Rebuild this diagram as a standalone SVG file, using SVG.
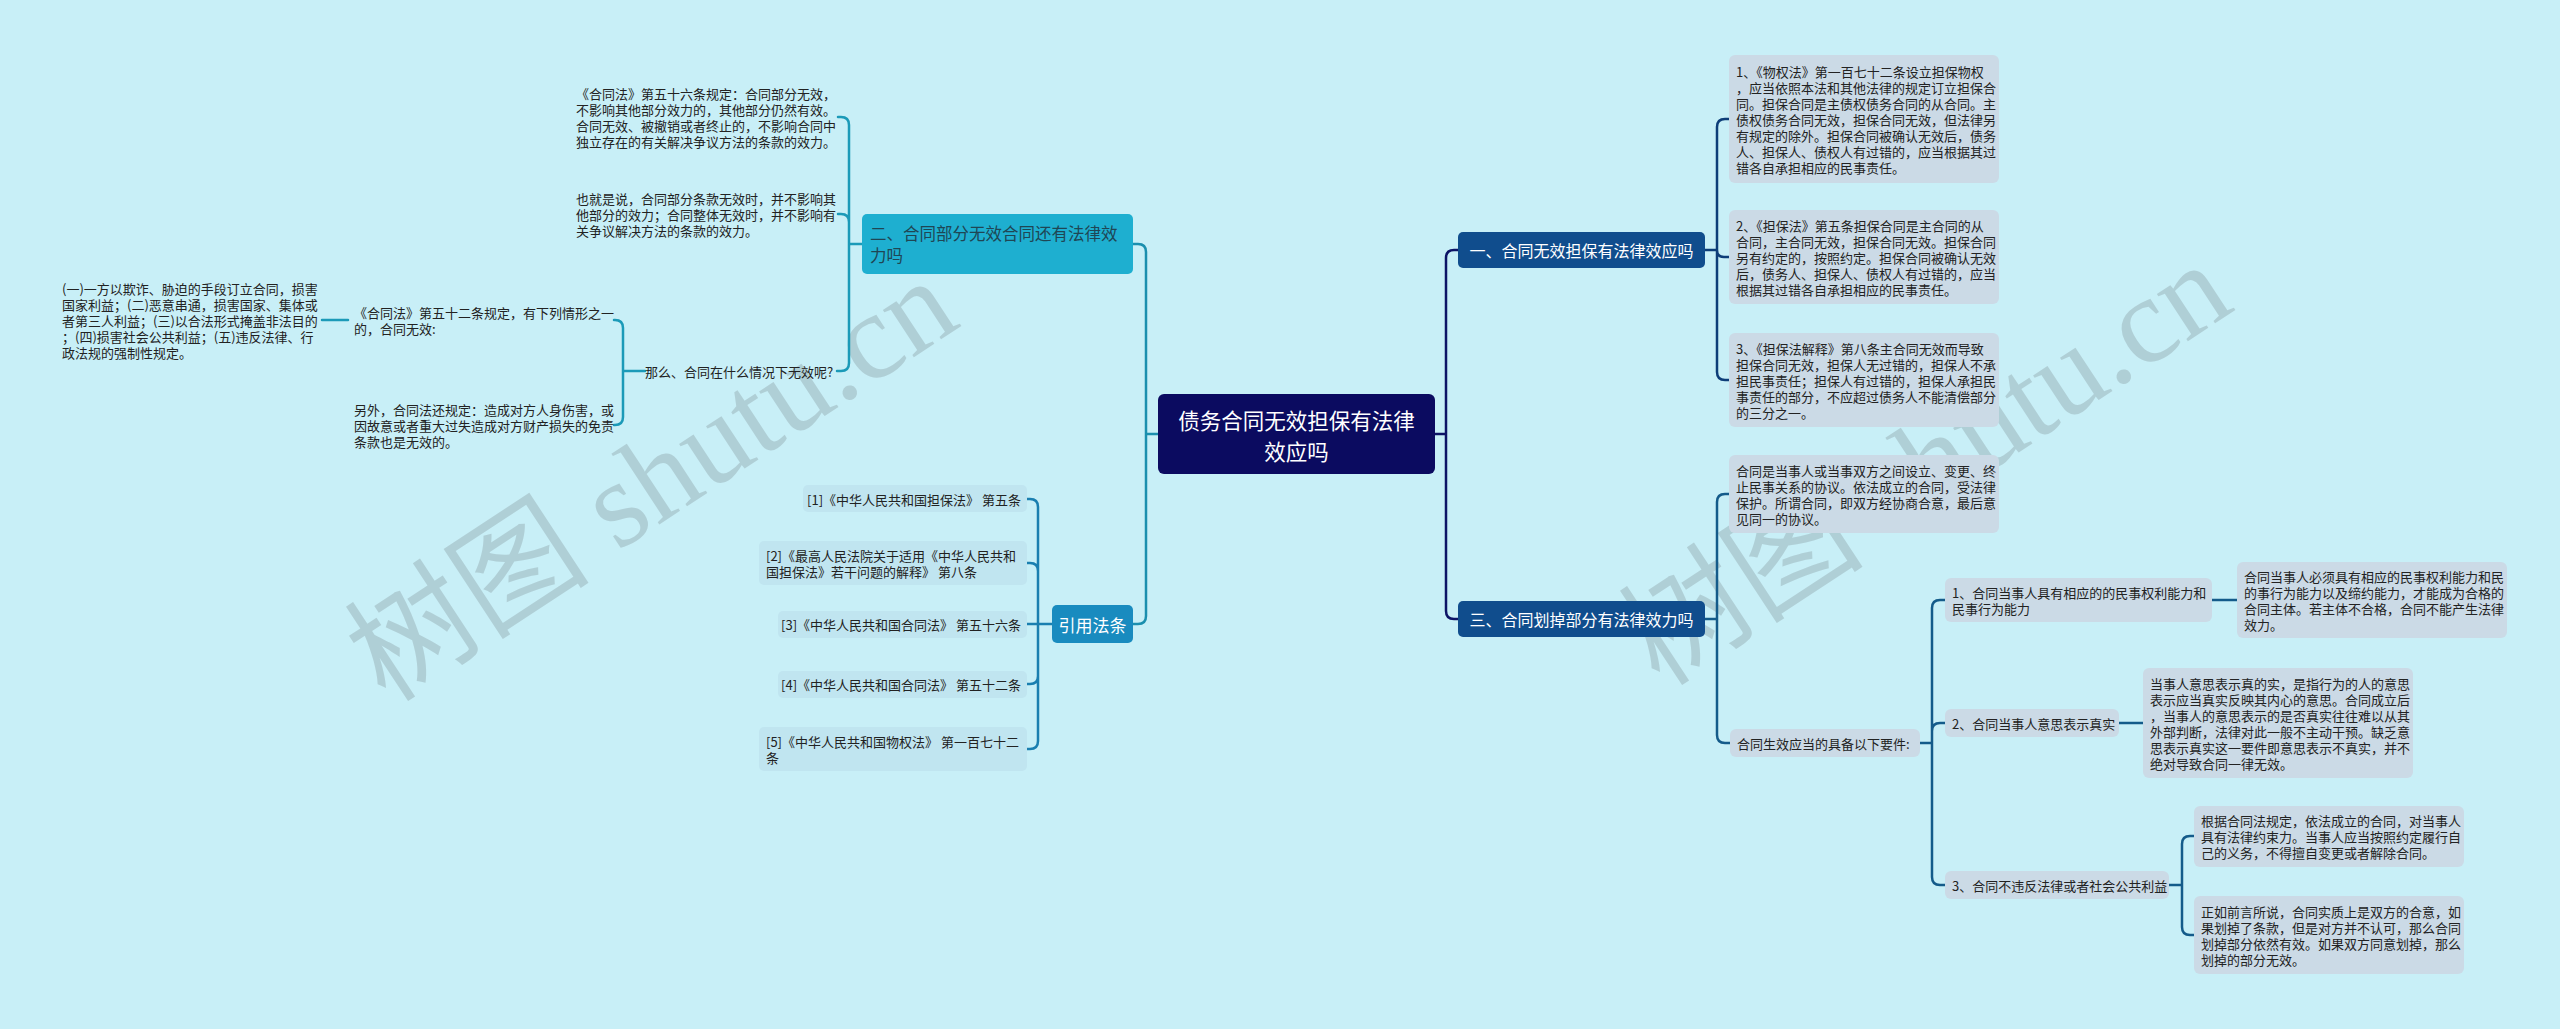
<svg xmlns="http://www.w3.org/2000/svg" width="2560" height="1029" viewBox="0 0 2560 1029">
<defs>
<style>
.bg{fill:#c8eff7}
.t{font-family:"Noto Sans CJK SC","Noto Sans",sans-serif;font-size:13px;fill:#222;dominant-baseline:central}
.leaf{fill:#cbdae6}
.ref{fill:#c0e5f0}
.wm{font-family:"Liberation Serif","Noto Sans CJK SC",serif;font-size:123px;fill:#8fa4aa;opacity:0.42}
.c{fill:none;stroke-width:2.5;stroke-linecap:round}
.root{fill:#0b0b60}
.b13{fill:#104d8d}
.big{font-family:"Noto Sans CJK SC","Noto Sans",sans-serif;fill:#fff;dominant-baseline:central;text-anchor:middle}
</style>
</defs>
<rect class="bg" x="0" y="0" width="2560" height="1029"/>
<text class="wm" transform="translate(386,704) rotate(-33.3)">树图 shutu.cn</text>
<text class="wm" transform="translate(1660,688) rotate(-33.3)">树图 shutu.cn</text>

<g id="connectors">
<path class="c" stroke="#0d1466" d="M1435,434 H1446 M1446,434 V258 Q1446,250 1454,250 H1458 M1446,434 V611 Q1446,619 1454,619 H1458"/>
<path class="c" stroke="#0d3d78" d="M1705,250 H1717 M1717,250 V127 Q1717,119 1725,119 H1729 M1717,250 Q1717,257 1724,257 H1729 M1717,250 V372 Q1717,380 1725,380 H1729"/>
<path class="c" stroke="#145b8a" d="M1705,619 H1717 M1717,619 V502 Q1717,494 1725,494 H1729 M1717,619 V735 Q1717,743 1725,743 H1730"/>
<path class="c" stroke="#145b8a" d="M1920,743 H1932 M1932,743 V608 Q1932,600 1940,600 H1945 M1932,743 V731 Q1932,723 1940,723 H1945 M1932,743 V877 Q1932,885 1940,885 H1945"/>
<path class="c" stroke="#145b8a" d="M2212,600 H2237 M2119,723 H2143 M2169,885 H2182 M2182,885 V844 Q2182,836 2190,836 H2194 M2182,885 V927 Q2182,935 2190,935 H2194"/>
<path class="c" stroke="#1b8fae" d="M1158,434 H1146 M1146,434 V252 Q1146,244 1138,244 H1133 M1146,434 V616 Q1146,624 1138,624 H1133"/>
<path class="c" stroke="#1b9ab8" d="M862,244 H849 M849,244 V125 Q849,117 841,117 H838 M849,244 V222 Q849,214 841,214 H838 M849,244 V363 Q849,371 841,371 H837"/>
<path class="c" stroke="#1b9ab8" d="M645,371 H623 M623,371 V328 Q623,320 615,320 H614 M623,371 V417 Q623,425 615,425 H614 M348,320 H322"/>
<path class="c" stroke="#1a7fb0" d="M1052,624 H1038 M1038,624 V507 Q1038,499 1030,499 H1027 M1038,624 V571 Q1038,563 1030,563 H1027 M1038,624 H1027 M1038,624 V676 Q1038,684 1030,684 H1027 M1038,624 V741 Q1038,749 1030,749 H1027"/>
</g>

<g id="root">
<rect class="root" x="1158" y="394" width="277" height="80" rx="6"/>
<text class="big" x="1296.5" y="419" font-size="21.5">债务合同无效担保有法律</text>
<text class="big" x="1296.5" y="450" font-size="21.5">效应吗</text>
</g>

<g id="branch1">
<rect class="b13" x="1458" y="232" width="247" height="36" rx="5"/>
<text class="big" x="1581.5" y="250" font-size="16">一、合同无效担保有法律效应吗</text>
</g>
<g id="branch3">
<rect class="b13" x="1458" y="601" width="247" height="36" rx="5"/>
<text class="big" x="1581.5" y="619" font-size="16">三、合同划掉部分有法律效力吗</text>
</g>

<g id="l1">
<rect class="leaf" x="1729" y="55" width="270" height="128" rx="6"/>
<text class="t" x="1736" y="71">1、《物权法》第一百七十二条设立担保物权</text>
<text class="t" x="1736" y="87">，应当依照本法和其他法律的规定订立担保合</text>
<text class="t" x="1736" y="103">同。担保合同是主债权债务合同的从合同。主</text>
<text class="t" x="1736" y="119">债权债务合同无效，担保合同无效，但法律另</text>
<text class="t" x="1736" y="135">有规定的除外。担保合同被确认无效后，债务</text>
<text class="t" x="1736" y="151">人、担保人、债权人有过错的，应当根据其过</text>
<text class="t" x="1736" y="167">错各自承担相应的民事责任。</text>
</g>
<g id="l2">
<rect class="leaf" x="1729" y="210" width="270" height="94" rx="6"/>
<text class="t" x="1736" y="225">2、《担保法》第五条担保合同是主合同的从</text>
<text class="t" x="1736" y="241">合同，主合同无效，担保合同无效。担保合同</text>
<text class="t" x="1736" y="257">另有约定的，按照约定。担保合同被确认无效</text>
<text class="t" x="1736" y="273">后，债务人、担保人、债权人有过错的，应当</text>
<text class="t" x="1736" y="289">根据其过错各自承担相应的民事责任。</text>
</g>
<g id="l3">
<rect class="leaf" x="1729" y="333" width="270" height="94" rx="6"/>
<text class="t" x="1736" y="348">3、《担保法解释》第八条主合同无效而导致</text>
<text class="t" x="1736" y="364">担保合同无效，担保人无过错的，担保人不承</text>
<text class="t" x="1736" y="380">担民事责任；担保人有过错的，担保人承担民</text>
<text class="t" x="1736" y="396">事责任的部分，不应超过债务人不能清偿部分</text>
<text class="t" x="1736" y="412">的三分之一。</text>
</g>

<g id="a">
<rect class="leaf" x="1729" y="455" width="270" height="78" rx="6"/>
<text class="t" x="1736" y="470">合同是当事人或当事双方之间设立、变更、终</text>
<text class="t" x="1736" y="486">止民事关系的协议。依法成立的合同，受法律</text>
<text class="t" x="1736" y="502">保护。所谓合同，即双方经协商合意，最后意</text>
<text class="t" x="1736" y="518">见同一的协议。</text>
</g>
<g id="b">
<rect class="leaf" x="1730" y="729" width="190" height="28" rx="6"/>
<text class="t" x="1737" y="743">合同生效应当的具备以下要件:</text>
</g>
<g id="b1">
<rect class="leaf" x="1945" y="578" width="267" height="44" rx="6"/>
<text class="t" x="1952" y="592">1、合同当事人具有相应的的民事权利能力和</text>
<text class="t" x="1952" y="608">民事行为能力</text>
</g>
<g id="b1c">
<rect class="leaf" x="2237" y="562" width="270" height="76" rx="6"/>
<text class="t" x="2244" y="576">合同当事人必须具有相应的民事权利能力和民</text>
<text class="t" x="2244" y="592">的事行为能力以及缔约能力，才能成为合格的</text>
<text class="t" x="2244" y="608">合同主体。若主体不合格，合同不能产生法律</text>
<text class="t" x="2244" y="624">效力。</text>
</g>
<g id="b2">
<rect class="leaf" x="1945" y="709" width="174" height="28" rx="6"/>
<text class="t" x="1952" y="723">2、合同当事人意思表示真实</text>
</g>
<g id="b2c">
<rect class="leaf" x="2143" y="668" width="270" height="110" rx="6"/>
<text class="t" x="2150" y="683">当事人意思表示真的实，是指行为的人的意思</text>
<text class="t" x="2150" y="699">表示应当真实反映其内心的意思。合同成立后</text>
<text class="t" x="2150" y="715">，当事人的意思表示的是否真实往往难以从其</text>
<text class="t" x="2150" y="731">外部判断，法律对此一般不主动干预。缺乏意</text>
<text class="t" x="2150" y="747">思表示真实这一要件即意思表示不真实，并不</text>
<text class="t" x="2150" y="763">绝对导致合同一律无效。</text>
</g>
<g id="b3">
<rect class="leaf" x="1945" y="871" width="224" height="28" rx="6"/>
<text class="t" x="1952" y="885">3、合同不违反法律或者社会公共利益</text>
</g>
<g id="c1">
<rect class="leaf" x="2194" y="806" width="270" height="61" rx="6"/>
<text class="t" x="2201" y="820">根据合同法规定，依法成立的合同，对当事人</text>
<text class="t" x="2201" y="836">具有法律约束力。当事人应当按照约定履行自</text>
<text class="t" x="2201" y="852">己的义务，不得擅自变更或者解除合同。</text>
</g>
<g id="c2">
<rect class="leaf" x="2194" y="896" width="270" height="78" rx="6"/>
<text class="t" x="2201" y="911">正如前言所说，合同实质上是双方的合意，如</text>
<text class="t" x="2201" y="927">果划掉了条款，但是对方并不认可，那么合同</text>
<text class="t" x="2201" y="943">划掉部分依然有效。如果双方同意划掉，那么</text>
<text class="t" x="2201" y="959">划掉的部分无效。</text>
</g>

<g id="branch2">
<rect x="862" y="214" width="271" height="60" rx="5" fill="#1eafd0"/>
<text x="870" y="233" font-family="Noto Sans CJK SC, sans-serif" font-size="16.5" fill="#1f4654" dominant-baseline="central">二、合同部分无效合同还有法律效</text>
<text x="870" y="255" font-family="Noto Sans CJK SC, sans-serif" font-size="16.5" fill="#1f4654" dominant-baseline="central">力吗</text>
</g>
<g id="t1">
<text class="t" x="576" y="93">《合同法》第五十六条规定：合同部分无效，</text>
<text class="t" x="576" y="109">不影响其他部分效力的，其他部分仍然有效。</text>
<text class="t" x="576" y="125">合同无效、被撤销或者终止的，不影响合同中</text>
<text class="t" x="576" y="141">独立存在的有关解决争议方法的条款的效力。</text>
</g>
<g id="t2">
<text class="t" x="576" y="198">也就是说，合同部分条款无效时，并不影响其</text>
<text class="t" x="576" y="214">他部分的效力；合同整体无效时，并不影响有</text>
<text class="t" x="576" y="230">关争议解决方法的条款的效力。</text>
</g>
<g id="name">
<text class="t" x="645" y="371">那么、合同在什么情况下无效呢?</text>
</g>
<g id="n1">
<text class="t" x="354" y="312">《合同法》第五十二条规定，有下列情形之一</text>
<text class="t" x="354" y="328">的，合同无效:</text>
</g>
<g id="n1c">
<text class="t" x="62" y="288">(一)一方以欺诈、胁迫的手段订立合同，损害</text>
<text class="t" x="62" y="304">国家利益；(二)恶意串通，损害国家、集体或</text>
<text class="t" x="62" y="320">者第三人利益；(三)以合法形式掩盖非法目的</text>
<text class="t" x="62" y="336">；(四)损害社会公共利益；(五)违反法律、行</text>
<text class="t" x="62" y="352">政法规的强制性规定。</text>
</g>
<g id="n2">
<text class="t" x="354" y="409">另外，合同法还规定：造成对方人身伤害，或</text>
<text class="t" x="354" y="425">因故意或者重大过失造成对方财产损失的免责</text>
<text class="t" x="354" y="441">条款也是无效的。</text>
</g>

<g id="cite">
<rect x="1052" y="605" width="81" height="38" rx="5" fill="#198bbf"/>
<text class="big" x="1092.5" y="624" font-size="17">引用法条</text>
</g>
<g id="r1">
<rect class="ref" x="803" y="485" width="224" height="27" rx="5"/>
<text class="t" x="1021" y="499" text-anchor="end">[1]《中华人民共和国担保法》 第五条</text>
</g>
<g id="r2">
<rect class="ref" x="759" y="541" width="268" height="44" rx="5"/>
<text class="t" x="766" y="555">[2]《最高人民法院关于适用《中华人民共和</text>
<text class="t" x="766" y="571">国担保法》若干问题的解释》 第八条</text>
</g>
<g id="r3">
<rect class="ref" x="778" y="611" width="249" height="27" rx="5"/>
<text class="t" x="1021" y="624.5" text-anchor="end">[3]《中华人民共和国合同法》 第五十六条</text>
</g>
<g id="r4">
<rect class="ref" x="778" y="671" width="249" height="27" rx="5"/>
<text class="t" x="1021" y="684.5" text-anchor="end">[4]《中华人民共和国合同法》 第五十二条</text>
</g>
<g id="r5">
<rect class="ref" x="759" y="727" width="268" height="44" rx="5"/>
<text class="t" x="766" y="741">[5]《中华人民共和国物权法》 第一百七十二</text>
<text class="t" x="766" y="757">条</text>
</g>
</svg>
